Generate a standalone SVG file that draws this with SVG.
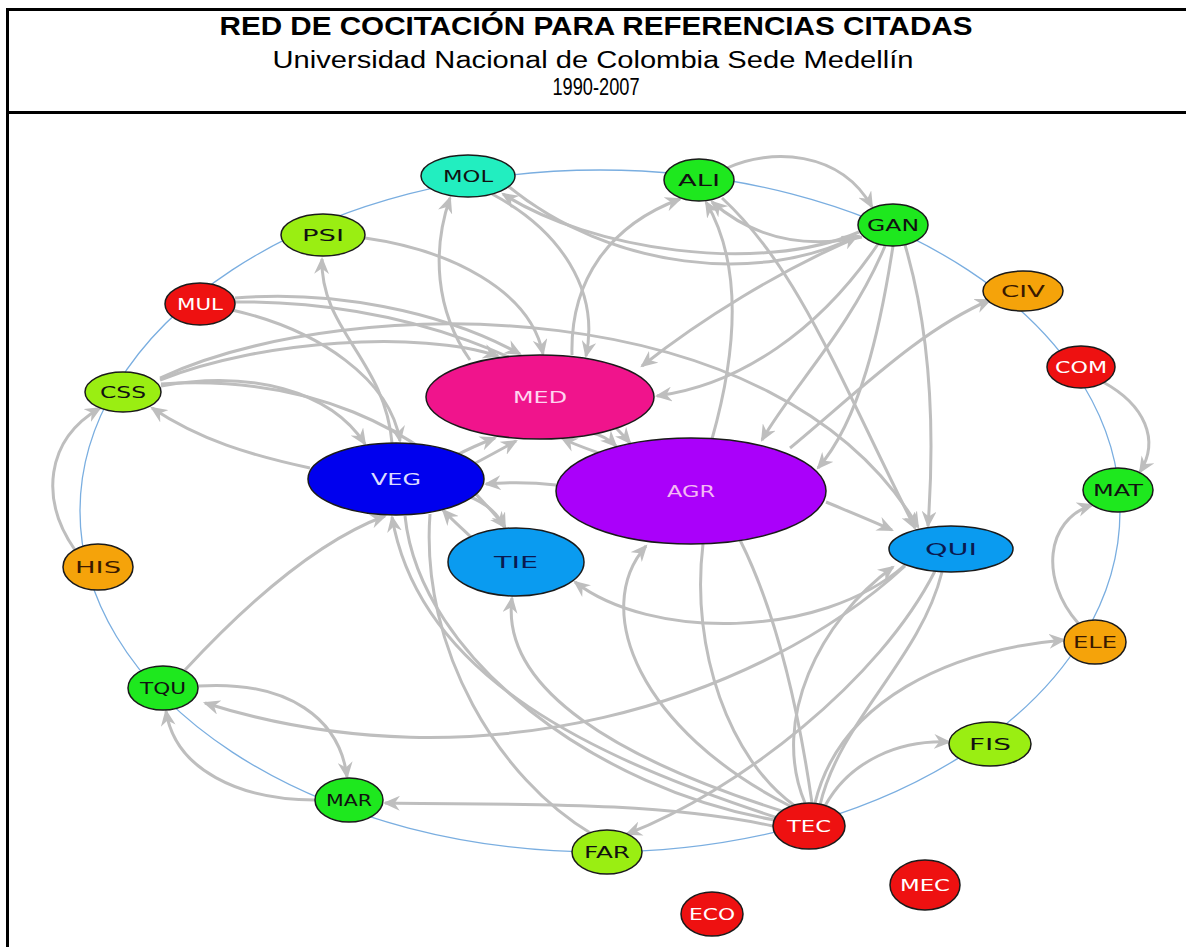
<svg xmlns="http://www.w3.org/2000/svg" width="1186" height="947" viewBox="0 0 1186 947">
<style>
.frame{stroke:#000;stroke-width:3;fill:none}
.hdr{font-family:"Liberation Sans",Arial,sans-serif;fill:#000;text-anchor:middle}
.ring{fill:none;stroke:#7aaee0;stroke-width:1.3}
.e{fill:none;stroke:#bebebe;stroke-width:3;marker-end:url(#ah)}
.u{fill:none;stroke:#bebebe;stroke-width:3}
.n ellipse{stroke:#1a1a1a;stroke-width:1.5}
.n text{font-family:"DejaVu Sans",sans-serif;font-size:16px;text-anchor:middle}
.dk{fill:#111}
.br{fill:#3a1a00}
.nv{fill:#0a1a50}
.wh{fill:#fff}
</style>
<defs>
<marker id="ah" viewBox="0 0 16 14" refX="14" refY="7" markerWidth="17" markerHeight="15" markerUnits="userSpaceOnUse" orient="auto">
<path d="M0,0 L16,7 L0,14 L5,7 z" fill="#bebebe"/>
</marker>
</defs>
<rect width="1186" height="947" fill="#fff"/>
<g id="header">
<line class="frame" x1="6" y1="9.5" x2="1186" y2="9.5"/>
<line class="frame" x1="7.5" y1="8" x2="7.5" y2="947"/>
<line class="frame" x1="6" y1="112.5" x2="1186" y2="112.5"/>
<text class="hdr" x="596" y="35" font-size="26" font-weight="bold" textLength="753" lengthAdjust="spacingAndGlyphs">RED DE COCITACIÓN PARA REFERENCIAS CITADAS</text>
<text class="hdr" x="593" y="68" font-size="23" textLength="641" lengthAdjust="spacingAndGlyphs">Universidad Nacional de Colombia Sede Medellín</text>
<text class="hdr" x="596" y="95" font-size="23" textLength="87" lengthAdjust="spacingAndGlyphs">1990-2007</text>
</g>
<ellipse class="ring" cx="600" cy="511" rx="520" ry="341"/>
<g id="connectors">
<path class="e" d="M727,168 C770,148 840,150 872,207"/>
<path class="e" d="M859,232 C760,275 590,250 503,194"/>
<path class="e" d="M508,186 C610,270 760,285 857,236"/>
<path class="e" d="M572,355 C570,280 610,225 680,199"/>
<path class="e" d="M470,360 C435,310 432,250 450,198"/>
<path class="e" d="M492,194 C560,230 600,290 586,356"/>
<path class="e" d="M862,237 C800,250 750,235 712,202"/>
<path class="e" d="M712,439 C740,340 740,260 706,202"/>
<path class="e" d="M722,198 C800,270 840,380 915,528"/>
<path class="e" d="M878,244 C820,330 740,385 657,396"/>
<path class="e" d="M860,236 C780,270 700,320 642,366"/>
<path class="e" d="M885,246 C850,330 790,390 762,440"/>
<path class="e" d="M893,246 C880,330 860,420 818,468"/>
<path class="e" d="M905,245 C930,330 935,430 928,526"/>
<path class="e" d="M790,448 C860,390 920,330 990,300"/>
<path class="e" d="M826,502 C850,512 870,520 892,530"/>
<path class="e" d="M1103,382 C1145,405 1160,440 1140,472"/>
<path class="e" d="M1078,623 C1040,580 1045,520 1092,505"/>
<path class="e" d="M815,803 C840,700 950,650 1064,640"/>
<path class="e" d="M825,806 C850,760 900,740 949,742"/>
<path class="e" d="M773,826 C650,800 500,805 385,803"/>
<path class="e" d="M790,806 C640,730 590,610 646,546"/>
<path class="e" d="M785,812 C620,760 500,690 512,598"/>
<path class="e" d="M778,818 C600,760 420,680 392,517"/>
<path class="u" d="M430,514 C420,650 500,780 592,834"/>
<path class="u" d="M405,516 C420,660 600,790 775,820"/>
<path class="e" d="M905,566 C760,700 480,790 205,703"/>
<path class="e" d="M905,565 C820,640 650,640 575,582"/>
<path class="e" d="M935,571 C880,680 740,790 627,834"/>
<path class="e" d="M805,803 C770,720 820,620 893,567"/>
<path class="u" d="M942,572 C920,660 840,720 820,805"/>
<path class="u" d="M703,544 C690,650 730,760 795,806"/>
<path class="u" d="M740,540 C780,620 800,720 812,803"/>
<path class="e" d="M472,538 C462,528 452,520 443,510"/>
<path class="e" d="M468,496 C488,504 498,514 505,528"/>
<path class="e" d="M556,485 C530,482 510,482 486,484"/>
<path class="e" d="M455,456 C468,449 482,443 495,438"/>
<path class="e" d="M470,466 C485,458 500,450 516,441"/>
<path class="e" d="M185,670 C250,600 320,540 385,516"/>
<path class="e" d="M310,468 C250,455 200,440 152,408"/>
<path class="e" d="M161,386 C250,370 330,390 365,444"/>
<path class="e" d="M161,384 C300,375 420,420 505,527"/>
<path class="e" d="M160,378 C350,290 780,290 918,527"/>
<path class="e" d="M160,380 C260,340 420,330 498,356"/>
<path class="e" d="M235,298 C330,290 440,310 520,354"/>
<path class="e" d="M232,310 C320,330 390,380 400,441"/>
<path class="e" d="M392,443 C385,360 320,330 322,259"/>
<path class="e" d="M365,238 C450,250 530,290 543,354"/>
<path class="e" d="M75,550 C40,500 45,440 100,408"/>
<path class="e" d="M198,686 C290,680 340,720 347,777"/>
<path class="e" d="M315,800 C240,800 175,770 166,711"/>
<path class="e" d="M605,455 C590,450 575,445 562,438"/>
<path class="e" d="M235,302 C400,300 560,360 630,443"/>
<path class="e" d="M588,432 C598,434 608,438 616,446"/>
</g>
<g id="n-MOL" class="n"><ellipse cx="468" cy="176" rx="47" ry="21" fill="#22eec0"/><text class="dk" x="468" y="182" textLength="50" lengthAdjust="spacingAndGlyphs">MOL</text></g>
<g id="n-ALI" class="n"><ellipse cx="699" cy="180" rx="35" ry="21" fill="#1ee81e"/><text class="dk" x="699" y="186" textLength="42" lengthAdjust="spacingAndGlyphs">ALI</text></g>
<g id="n-GAN" class="n"><ellipse cx="893" cy="225" rx="35" ry="21" fill="#1ee81e"/><text class="dk" x="893" y="231" textLength="52" lengthAdjust="spacingAndGlyphs">GAN</text></g>
<g id="n-PSI" class="n"><ellipse cx="323" cy="235" rx="42" ry="21" fill="#9aee12"/><text class="dk" x="323" y="241" textLength="42" lengthAdjust="spacingAndGlyphs">PSI</text></g>
<g id="n-MUL" class="n"><ellipse cx="200" cy="304" rx="35" ry="21" fill="#ee1111"/><text class="wh" x="200" y="310" textLength="46" lengthAdjust="spacingAndGlyphs">MUL</text></g>
<g id="n-CIV" class="n"><ellipse cx="1023" cy="291" rx="40" ry="20" fill="#f5a30a"/><text class="br" x="1023" y="297" textLength="44" lengthAdjust="spacingAndGlyphs">CIV</text></g>
<g id="n-COM" class="n"><ellipse cx="1081" cy="367" rx="34" ry="21" fill="#ee1111"/><text class="wh" x="1081" y="373" textLength="52" lengthAdjust="spacingAndGlyphs">COM</text></g>
<g id="n-CSS" class="n"><ellipse cx="123" cy="392" rx="38" ry="20" fill="#9aee12"/><text class="dk" x="123" y="398" textLength="46" lengthAdjust="spacingAndGlyphs">CSS</text></g>
<g id="n-MED" class="n"><ellipse cx="540" cy="397" rx="114" ry="42" fill="#f0148c"/><text fill="#ffd4f0" x="540" y="403" textLength="54" lengthAdjust="spacingAndGlyphs">MED</text></g>
<g id="n-VEG" class="n"><ellipse cx="396" cy="479" rx="88" ry="36" fill="#0000ee"/><text fill="#dcdcff" x="396" y="485" textLength="50" lengthAdjust="spacingAndGlyphs">VEG</text></g>
<g id="n-AGR" class="n"><ellipse cx="691" cy="491" rx="135" ry="53" fill="#aa00fa"/><text fill="#f4b8f4" x="691" y="497" textLength="48" lengthAdjust="spacingAndGlyphs">AGR</text></g>
<g id="n-MAT" class="n"><ellipse cx="1118" cy="490" rx="35" ry="22" fill="#1ee81e"/><text class="dk" x="1118" y="496" textLength="50" lengthAdjust="spacingAndGlyphs">MAT</text></g>
<g id="n-TIE" class="n"><ellipse cx="516" cy="562" rx="68" ry="34" fill="#0a9bf0"/><text class="nv" x="516" y="568" textLength="44" lengthAdjust="spacingAndGlyphs">TIE</text></g>
<g id="n-QUI" class="n"><ellipse cx="951" cy="549" rx="62" ry="23" fill="#0a9bf0"/><text class="nv" x="951" y="555" textLength="52" lengthAdjust="spacingAndGlyphs">QUI</text></g>
<g id="n-HIS" class="n"><ellipse cx="98" cy="567" rx="35" ry="23" fill="#f5a30a"/><text class="br" x="98" y="573" textLength="46" lengthAdjust="spacingAndGlyphs">HIS</text></g>
<g id="n-ELE" class="n"><ellipse cx="1095" cy="642" rx="31" ry="22" fill="#f5a30a"/><text class="br" x="1095" y="648" textLength="44" lengthAdjust="spacingAndGlyphs">ELE</text></g>
<g id="n-TQU" class="n"><ellipse cx="163" cy="688" rx="35" ry="22" fill="#1ee81e"/><text class="dk" x="163" y="694" textLength="46" lengthAdjust="spacingAndGlyphs">TQU</text></g>
<g id="n-FIS" class="n"><ellipse cx="990" cy="744" rx="41" ry="22" fill="#9aee12"/><text class="dk" x="990" y="750" textLength="42" lengthAdjust="spacingAndGlyphs">FIS</text></g>
<g id="n-MAR" class="n"><ellipse cx="349" cy="800" rx="34" ry="22" fill="#1ee81e"/><text class="dk" x="349" y="806" textLength="46" lengthAdjust="spacingAndGlyphs">MAR</text></g>
<g id="n-TEC" class="n"><ellipse cx="809" cy="826" rx="36" ry="23" fill="#ee1111"/><text class="wh" x="809" y="832" textLength="44" lengthAdjust="spacingAndGlyphs">TEC</text></g>
<g id="n-FAR" class="n"><ellipse cx="607" cy="852" rx="35" ry="22" fill="#9aee12"/><text class="dk" x="607" y="858" textLength="46" lengthAdjust="spacingAndGlyphs">FAR</text></g>
<g id="n-MEC" class="n"><ellipse cx="925" cy="885" rx="35" ry="25" fill="#ee1111"/><text class="wh" x="925" y="891" textLength="50" lengthAdjust="spacingAndGlyphs">MEC</text></g>
<g id="n-ECO" class="n"><ellipse cx="712" cy="914" rx="31" ry="22" fill="#ee1111"/><text class="wh" x="712" y="920" textLength="46" lengthAdjust="spacingAndGlyphs">ECO</text></g>
</svg>
